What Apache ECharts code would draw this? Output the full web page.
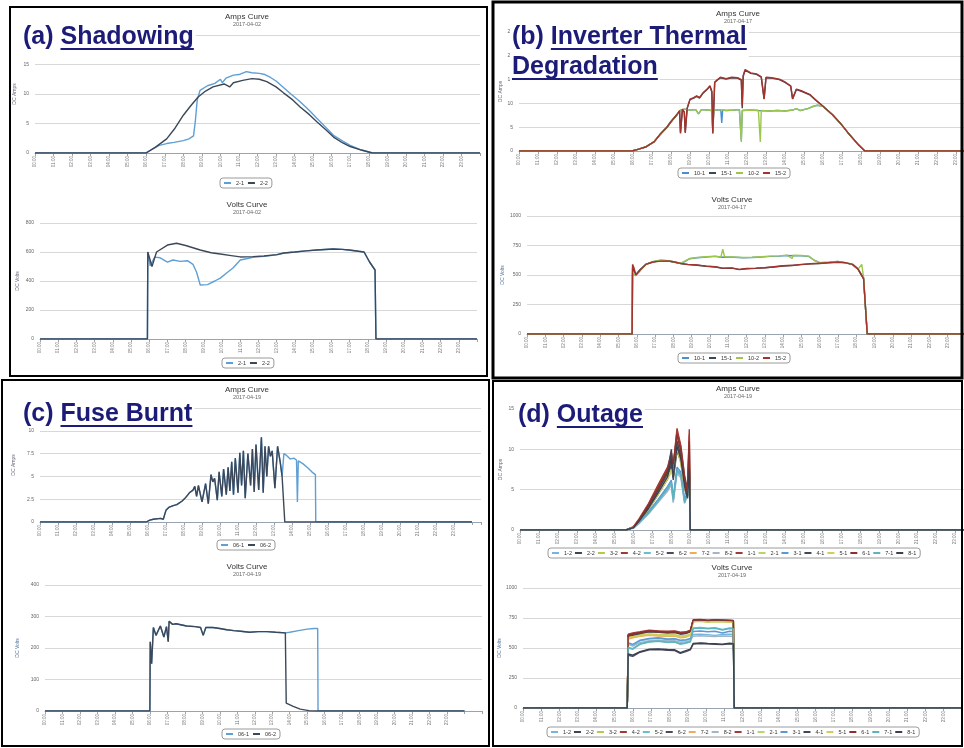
<!DOCTYPE html>
<html><head><meta charset="utf-8">
<script src="https://cdn.jsdelivr.net/npm/echarts@6/dist/echarts.min.js"></script>
<style>html,body{margin:0;padding:0;background:#fff}#c{width:964px;height:748px}</style>
</head><body><div id="c"></div>
<script>
// ---------- tick labels ----------
const xTickLabels = ['00:00','01:00','02:00','03:00','04:00','05:00','06:00','07:00','08:00','09:00','10:00','11:00',
  '12:00','13:00','14:00','15:00','16:00','17:00','18:00','19:00','20:00','21:00','22:00','23:00'];

// ---------- (a) Shadowing, 2017-04-02 ----------
const aAmps21 = [[0,0],[5.95,0],[6.3,0.6],[6.7,1.3],[7.1,1.6],[7.5,1.8],[8.0,2.1],[8.3,2.4],[8.55,2.9],[8.65,5.5],[8.75,9.0],[8.9,10.6],[9.3,11.4],[9.7,11.8],[10.0,12.5],[10.1,11.9],[10.3,12.7],[10.7,13.2],[11.0,13.3],[11.4,13.8],[11.7,13.6],[12.1,13.5],[12.4,13.3],[12.7,12.8],[13.0,12.2],[13.4,11.1],[13.8,10.0],[14.3,8.7],[14.8,7.2],[15.2,5.9],[15.7,4.3],[16.1,3.0],[16.6,2.0],[17.0,1.3],[17.6,0.5],[18.2,0],[24,0]];
const aAmps22 = [[0,0],[6.0,0],[6.5,1.0],[7.1,2.4],[7.55,4.2],[8.0,6.4],[8.4,8.0],[8.8,9.5],[9.2,10.5],[9.6,11.2],[10.2,11.7],[10.5,11.2],[10.7,11.9],[11.2,12.3],[11.7,12.6],[12.1,12.5],[12.5,12.1],[13.0,11.2],[13.4,10.2],[13.9,9.0],[14.3,7.8],[14.8,6.5],[15.2,5.3],[15.7,3.9],[16.1,2.7],[16.6,1.7],[17.0,1.1],[17.6,0.5],[18.2,0],[24,0]];
const aVolts21 = [[0,0],[5.9,0],[5.92,600],[6.05,505],[6.3,565],[6.6,560],[7.0,530],[7.3,545],[7.7,535],[8.1,540],[8.4,515],[8.6,460],[8.8,372],[9.2,375],[9.6,400],[9.9,420],[10.3,460],[10.6,490],[11.0,545],[11.4,555],[11.8,566],[12.3,570],[13.0,580],[13.4,593],[14.0,600],[14.6,608],[15.2,614],[16.1,621],[16.6,618],[17.0,612],[17.5,605],[17.8,598],[18.1,531],[18.4,476],[18.45,0],[24,0]];
const aVolts22 = [[0,0],[5.9,0],[5.92,600],[6.15,500],[6.4,600],[7.0,648],[7.5,660],[8.0,645],[8.8,614],[9.4,595],[9.9,586],[10.5,575],[11.0,566],[11.7,568],[12.3,572],[13.0,582],[13.4,593],[14.0,600],[14.6,608],[15.2,614],[16.1,621],[16.6,618],[17.0,614],[17.5,605],[17.8,600],[18.1,531],[18.4,476],[18.45,0],[24,0]];

// ---------- (b) Inverter Thermal Degradation, 2017-04-17 ----------
const bAmps101 = [[0,0],[5.95,0],[6.3,0.4],[6.7,0.9],[7.1,1.9],[7.4,3.4],[7.8,5.1],[8.0,6.2],[8.3,7.6],[8.5,8.6],[8.7,8.8],[9.0,8.6],[9.3,8.7],[9.45,7.8],[9.6,8.7],[9.9,8.6],[10.15,8.5],[10.2,3.9],[10.25,8.6],[10.62,8.6],[10.67,5.9],[10.72,8.6],[10.9,8.5],[11.3,8.6],[11.6,8.7],[11.7,2.2],[11.75,8.5],[12.2,8.6],[12.6,8.5],[13.2,8.4],[13.6,8.5],[14.0,8.4],[14.4,8.6],[14.6,8.9],[14.8,8.5],[15.2,8.9],[15.5,9.4],[15.7,9.6],[16.0,9.4],[16.5,7.6],[16.9,5.9],[17.3,3.9],[17.8,1.6],[18.2,0],[24,0]];
const bAmps151 = [[0,0],[5.95,0],[6.3,0.4],[6.7,0.9],[7.1,1.9],[7.4,3.3],[7.8,5.0],[8.0,6.1],[8.3,7.5],[8.45,8.4],[8.5,3.9],[8.6,8.7],[8.7,8.1],[8.75,4.0],[8.85,8.9],[9.0,10.8],[9.2,11.1],[9.35,11.5],[9.5,11.1],[9.7,12.2],[9.9,12.9],[10.05,13.6],[10.15,12.4],[10.2,3.9],[10.3,14.4],[10.45,14.9],[10.6,15.4],[10.9,15.1],[11.2,15.4],[11.5,15.3],[11.7,14.9],[11.75,9.0],[11.8,15.7],[11.9,17.0],[12.2,16.3],[12.5,16.1],[12.75,15.5],[12.9,11.0],[13.0,15.4],[13.3,15.3],[13.7,15.0],[14.0,14.4],[14.3,13.6],[14.4,11.0],[14.6,12.9],[14.9,12.5],[15.3,11.8],[15.6,10.7],[16.0,9.4],[16.5,7.6],[16.9,5.9],[17.3,3.9],[17.8,1.6],[18.2,0],[24,0]];
const bAmps102 = [[0,0],[5.95,0],[6.3,0.4],[6.7,0.9],[7.1,1.9],[7.4,3.4],[7.8,5.1],[8.0,6.2],[8.3,7.6],[8.5,8.6],[8.7,8.8],[9.0,8.6],[9.3,8.7],[9.45,7.8],[9.6,8.7],[9.9,8.6],[10.15,8.5],[10.2,3.7],[10.25,8.6],[10.6,8.7],[10.9,8.5],[11.3,8.6],[11.6,8.7],[11.7,1.9],[11.75,8.5],[12.2,8.6],[12.6,8.5],[12.7,1.9],[12.75,8.5],[13.2,8.4],[13.6,8.5],[14.0,8.4],[14.4,8.6],[14.6,8.9],[14.8,8.5],[15.2,8.9],[15.5,9.4],[15.7,9.6],[16.0,9.4],[16.5,7.6],[16.9,5.9],[17.3,3.9],[17.8,1.6],[18.2,0],[24,0]];
const bAmps152 = [[0,0],[5.95,0],[6.3,0.4],[6.7,0.9],[7.1,1.9],[7.4,3.4],[7.8,5.1],[8.0,6.2],[8.3,7.6],[8.45,8.5],[8.5,3.7],[8.6,8.8],[8.7,8.2],[8.75,3.8],[8.85,9.0],[9.0,10.9],[9.2,11.2],[9.35,11.6],[9.5,11.2],[9.7,12.3],[9.9,13.0],[10.05,13.7],[10.15,12.5],[10.2,3.7],[10.3,14.5],[10.45,15.0],[10.6,15.5],[10.9,15.2],[11.2,15.5],[11.5,15.4],[11.7,15.0],[11.75,9.5],[11.8,15.8],[11.9,17.1],[12.2,16.4],[12.5,16.2],[12.75,15.6],[12.9,10.9],[13.0,15.5],[13.3,15.4],[13.7,15.1],[14.0,14.5],[14.3,13.7],[14.4,10.9],[14.6,13.0],[14.9,12.6],[15.3,11.9],[15.6,10.8],[16.0,9.4],[16.5,7.6],[16.9,5.9],[17.3,3.9],[17.8,1.6],[18.2,0],[24,0]];
const bVolts101 = [[0,0],[5.75,0],[5.77,515],[5.95,495],[6.2,540],[6.5,590],[6.9,612],[7.3,625],[7.7,622],[8.0,612],[8.4,600],[8.6,612],[8.9,638],[9.3,646],[9.8,653],[10.3,658],[10.6,650],[10.8,653],[11.3,650],[11.8,646],[12.3,648],[12.8,653],[13.3,658],[13.8,660],[14.2,665],[14.6,663],[15.0,662],[15.4,658],[15.7,625],[16.0,605],[16.5,608],[17.0,615],[17.4,605],[17.8,590],[18.1,550],[18.4,478],[18.6,0],[24,0]];
const bVolts151 = [[0,0],[5.75,0],[5.77,560],[5.95,505],[6.2,548],[6.5,592],[6.9,612],[7.3,620],[7.7,618],[8.0,610],[8.4,596],[8.8,588],[9.3,583],[9.8,574],[10.3,568],[10.7,556],[11.2,558],[11.6,546],[12.0,553],[12.5,556],[13.0,561],[13.5,568],[14.0,576],[14.5,580],[15.0,588],[15.5,594],[16.0,598],[16.5,604],[17.0,608],[17.4,603],[17.8,588],[18.1,548],[18.4,468],[18.6,0],[24,0]];
const bVolts102 = [[0,0],[5.75,0],[5.77,520],[5.95,495],[6.2,540],[6.5,590],[6.9,612],[7.3,625],[7.7,622],[8.0,612],[8.4,600],[8.6,615],[8.9,640],[9.3,648],[9.8,655],[10.3,660],[10.6,652],[10.7,718],[10.8,655],[11.3,652],[11.8,648],[12.3,650],[12.8,655],[13.3,660],[13.8,662],[14.2,668],[14.5,640],[14.55,668],[15.0,665],[15.4,660],[15.7,625],[16.0,605],[16.5,608],[17.0,615],[17.4,605],[17.8,590],[18.1,550],[18.3,590],[18.4,480],[18.6,0],[24,0]];
const bVolts152 = [[0,0],[5.75,0],[5.77,590],[5.85,560],[5.95,500],[6.2,545],[6.5,590],[6.9,610],[7.3,618],[7.7,620],[8.0,612],[8.4,598],[8.8,590],[9.3,585],[9.8,575],[10.3,570],[10.7,558],[11.2,560],[11.6,548],[12.0,555],[12.5,558],[13.0,562],[13.5,570],[14.0,578],[14.5,582],[15.0,590],[15.5,595],[16.0,600],[16.5,605],[17.0,610],[17.4,605],[17.8,590],[18.1,550],[18.4,470],[18.6,0],[24,0]];

// ---------- (c) Fuse Burnt, 2017-04-19 ----------
const cAmps061 = [[0,0],[5.9,0],[6.1,0.2],[6.3,0.3],[6.7,0.4],[6.85,0.3],[7.0,1.3],[7.15,1.6],[7.4,1.8],[7.6,1.9],[7.9,2.3],[8.1,2.7],[8.3,3.2],[8.5,3.5],[8.6,3.9],[8.7,2.8],[8.8,4.0],[9.0,2.2],[9.2,4.2],[9.35,2.0],[9.5,5.2],[9.6,4.4],[9.7,4.8],[9.85,2.4],[9.95,5.5],[10.1,2.8],[10.2,5.8],[10.35,3.0],[10.45,6.0],[10.55,3.4],[10.65,6.6],[10.75,3.0],[10.85,7.0],[11.0,3.2],[11.1,7.6],[11.2,4.0],[11.3,7.8],[11.4,2.6],[11.55,7.5],[11.7,4.0],[11.8,8.0],[11.9,3.3],[12.0,8.5],[12.15,3.5],[12.3,9.3],[12.4,3.2],[12.5,8.3],[12.6,5.0],[12.7,8.3],[12.8,7.2],[12.9,7.8],[13.05,3.7],[13.2,8.3],[13.35,6.5],[13.45,5.0],[13.55,7.5],[13.7,7.3],[13.9,6.9],[14.1,7.0],[14.25,6.8],[14.3,2.2],[14.35,6.7],[14.6,6.4],[14.9,5.9],[15.1,5.5],[15.3,5.2],[15.32,0],[24,0]];
const cAmps062 = [[0,0],[5.9,0],[6.1,0.2],[6.3,0.3],[6.7,0.4],[6.85,0.3],[7.0,1.3],[7.15,1.6],[7.4,1.8],[7.6,1.9],[7.9,2.3],[8.1,2.7],[8.3,3.2],[8.5,3.5],[8.6,3.9],[8.7,2.8],[8.8,4.0],[9.0,2.2],[9.2,4.2],[9.35,2.0],[9.5,5.2],[9.6,4.4],[9.7,4.8],[9.85,2.4],[9.95,5.5],[10.1,2.8],[10.2,5.8],[10.35,3.0],[10.45,6.0],[10.55,3.4],[10.65,6.6],[10.75,3.0],[10.85,7.0],[11.0,3.2],[11.1,7.6],[11.2,4.0],[11.3,7.8],[11.4,2.6],[11.55,7.5],[11.7,4.0],[11.8,8.0],[11.9,3.3],[12.0,8.5],[12.15,3.5],[12.3,9.3],[12.4,3.2],[12.5,8.3],[12.6,5.0],[12.7,8.3],[12.8,7.2],[12.9,7.8],[13.05,3.7],[13.2,8.3],[13.35,6.5],[13.45,5.0],[13.6,0],[24,0]];
const cVolts061 = [[0,0],[6.0,0],[6.02,220],[6.1,150],[6.2,265],[6.35,240],[6.6,270],[6.8,235],[6.95,268],[7.05,220],[7.1,285],[7.3,275],[7.5,277],[8.1,270],[8.6,268],[8.9,265],[9.05,240],[9.2,265],[9.6,265],[10.0,262],[10.4,258],[10.8,255],[11.2,253],[11.7,250],[12.2,252],[12.7,252],[13.2,250],[13.75,248],[14.0,250],[14.5,255],[15.0,260],[15.4,262],[15.6,262],[15.62,0],[24,0]];
const cVolts062 = [[0,0],[6.0,0],[6.02,220],[6.1,150],[6.2,265],[6.35,240],[6.6,270],[6.8,235],[6.95,268],[7.05,220],[7.1,285],[7.3,275],[7.5,277],[8.1,270],[8.6,268],[8.9,265],[9.05,240],[9.2,265],[9.6,265],[10.0,262],[10.4,258],[10.8,255],[11.2,253],[11.7,250],[12.2,252],[12.7,252],[13.2,250],[13.75,248],[13.8,25],[14.2,15],[14.6,6],[15.1,1],[15.5,0],[24,0]];

// ---------- (d) Outage, 2017-04-19 ----------
const dNames = ['1-2','2-2','3-2','4-2','5-2','6-2','7-2','8-2','1-1','2-1','3-1','4-1','5-1','6-1','7-1','8-1'];
const dAmpHours = [0,5.6,6.0,6.3,6.8,7.3,7.8,8.0,8.1,8.3,8.5,8.7,8.85,8.95,9.0,24];
const dAmps12 = [0,0,0.3,0.9,2.2,3.7,5.2,6.0,3.6,7.5,7.0,3.6,4.5,6.5,0,0];
const dAmps22 = [0,0,0.4,1.2,3.0,5.0,7.2,10.0,7.0,11.3,9.6,5.8,4.3,8.5,0,0];
const dAmps32 = [0,0,0.3,1.2,2.8,4.7,6.8,7.8,7.2,10.8,8.8,5.6,4.5,7.2,0,0];
const dAmps42 = [0,0,0.4,1.4,3.3,5.6,7.8,9.6,8.0,12.6,10.5,6.8,5.0,12.5,0,0];
const dAmps52 = [0,0,0.3,0.9,2.1,3.5,5.0,5.8,3.5,7.2,6.8,3.5,4.3,6.2,0,0];
const dAmps62 = [0,0,0.3,1.1,2.6,4.4,6.3,8.2,6.2,9.8,8.5,5.2,3.9,7.0,0,0];
const dAmps72 = [0,0,0.4,1.3,3.1,5.3,7.5,8.6,7.8,11.5,9.6,6.0,4.7,9.0,0,0];
const dAmps82 = [0,0,0.2,0.8,2.0,3.4,4.8,5.6,3.4,7.0,6.5,3.3,4.2,6.0,0,0];
const dAmps11 = [0,0,0.4,1.3,3.2,5.4,7.6,9.2,7.8,12.2,10.3,6.5,4.8,11.8,0,0];
const dAmps21 = [0,0,0.3,1.1,2.7,4.5,6.5,7.5,7.0,10.5,8.5,5.4,4.4,7.0,0,0];
const dAmps31 = [0,0,0.3,1.0,2.3,3.8,5.4,6.2,4.0,7.8,7.2,3.8,4.6,6.8,0,0];
const dAmps41 = [0,0,0.3,1.2,2.9,4.9,7.0,9.6,6.8,11.0,9.2,5.6,4.2,8.0,0,0];
const dAmps51 = [0,0,0.3,1.1,2.6,4.4,6.3,7.2,6.8,10.2,8.2,5.2,4.2,6.8,0,0];
const dAmps61 = [0,0,0.3,1.3,3.1,5.2,7.4,8.8,8.2,11.8,9.8,6.2,4.6,11.0,0,0];
const dAmps71 = [0,0,0.3,0.9,2.1,3.6,5.1,5.9,3.8,7.4,6.9,3.4,4.4,6.3,0,0];
const dAmps81 = [0,0,0.3,1.1,2.7,4.6,6.6,8.8,6.5,10.4,8.8,5.4,4.0,7.5,0,0];
const dVoltHours = [0,5.7,5.75,6.0,6.4,6.9,7.4,7.9,8.3,8.6,8.9,9.15,9.3,9.7,10.1,10.5,10.9,11.3,11.5,11.55,24];
const dVolts12 = [0,0,540,520,560,575,580,570,575,560,565,575,612,615,610,605,612,615,612,0,0];
const dVolts22 = [0,0,600,610,625,640,635,630,632,620,625,640,728,732,725,730,728,726,724,0,0];
const dVolts32 = [0,0,580,590,600,610,605,600,605,590,595,610,718,722,716,720,718,716,715,0,0];
const dVolts42 = [0,0,610,620,630,645,640,635,638,628,630,645,735,738,732,736,734,732,730,0,0];
const dVolts52 = [0,0,500,490,530,550,555,545,550,530,540,550,668,672,665,670,655,668,665,0,0];
const dVolts62 = [0,0,440,430,465,485,488,480,478,455,470,485,532,538,535,530,528,535,532,0,0];
const dVolts72 = [0,0,575,585,598,605,600,598,600,585,590,605,722,726,720,724,722,720,718,0,0];
const dVolts82 = [0,0,530,515,545,560,565,560,562,548,552,562,598,602,598,595,600,598,596,0,0];
const dVolts11 = [0,0,615,625,635,648,642,640,642,632,635,648,730,734,728,732,730,728,726,0,0];
const dVolts21 = [0,0,590,600,610,618,612,610,612,600,605,615,720,724,718,722,720,718,716,0,0];
const dVolts31 = [0,0,545,530,565,580,585,575,578,565,570,580,638,642,636,640,625,640,636,0,0];
const dVolts41 = [0,0,598,605,620,635,630,625,628,615,620,635,726,730,724,728,726,724,722,0,0];
const dVolts51 = [0,0,585,595,603,612,607,602,606,592,598,612,720,724,718,722,720,718,717,0,0];
const dVolts61 = [0,0,605,615,628,640,636,630,634,622,626,640,732,736,730,734,732,730,728,0,0];
const dVolts71 = [0,0,505,495,535,552,558,550,552,535,545,555,662,666,660,665,650,662,660,0,0];
const dVolts81 = [0,0,450,440,470,490,492,488,485,462,478,490,538,542,538,535,532,540,536,0,0];

// ---------- styling ----------
const COL = {lb:'#5e9fd6', dk:'#3c4859', blue:'#4a8fd6', green:'#9cc64c', red:'#a3342c'};
const dColors = ['#7ab2de','#3e4552','#b3cb4a','#9e3a2e','#68c0cc','#4b4a5e','#f0ac5a','#9fb6cc',
                 '#a23a36','#b8d66e','#5a98d6','#404858','#d6cc5a','#8a3030','#5cb4bc','#3a4050'];
const dAmpsVals = [dAmps12,dAmps22,dAmps32,dAmps42,dAmps52,dAmps62,dAmps72,dAmps82,dAmps11,dAmps21,dAmps31,dAmps41,dAmps51,dAmps61,dAmps71,dAmps81];
const dVoltVals = [dVolts12,dVolts22,dVolts32,dVolts42,dVolts52,dVolts62,dVolts72,dVolts82,dVolts11,dVolts21,dVolts31,dVolts41,dVolts51,dVolts61,dVolts71,dVolts81];
const zip = (hs, vs) => hs.map((h, i) => [h, vs[i]]);

const charts = [
  {grid:[35,35,445,118], xMax:24, yMax:20, yInt:5, yName:'DC Amps', gap:18, t:['Amps Curve','2017-04-02',247,17], lg:[220,178,4],
   s:[['2-1',aAmps21,COL.lb],['2-2',aAmps22,COL.dk]]},
  {grid:[40,223,437,116], xMax:24, yMax:800, yInt:200, yName:'DC Volts', gap:20, t:['Volts Curve','2017-04-02',247,205], lg:[222,358,4],
   s:[['2-1',aVolts21,COL.lb],['2-2',aVolts22,COL.dk]]},
  {grid:[519,32,456,119], xMax:24, yMax:25, yInt:5, yName:'DC Amps', gap:16, t:['Amps Curve','2017-04-17',738,14], lg:[678,168,4],
   s:[['10-1',bAmps101,COL.blue],['15-1',bAmps151,COL.dk],['10-2',bAmps102,COL.green],['15-2',bAmps152,COL.red]]},
  {grid:[527,216,439,118], xMax:24, yMax:1000, yInt:250, yName:'DC Volts', gap:22, t:['Volts Curve','2017-04-17',732,200], lg:[678,353,4],
   s:[['10-1',bVolts101,COL.blue],['15-1',bVolts151,COL.dk],['10-2',bVolts102,COL.green],['15-2',bVolts152,COL.red]]},
  {grid:[40,408,441,114], xMax:24.5, yMax:12.5, yInt:2.5, yName:'DC Amps', gap:24, t:['Amps Curve','2017-04-19',247,390], lg:[217,540,4],
   s:[['06-1',cAmps061,COL.lb],['06-2',cAmps062,COL.dk]]},
  {grid:[45,585,437,126], xMax:25, yMax:400, yInt:100, yName:'DC Volts', gap:25, t:['Volts Curve','2017-04-19',247,567], lg:[222,729,4],
   s:[['06-1',cVolts061,COL.lb],['06-2',cVolts062,COL.dk]]},
  {grid:[520,409,454,121], xMax:24, yMax:15, yInt:5, yName:'DC Amps', gap:17, t:['Amps Curve','2017-04-19',738,389], lg:[548,548,3],
   s:dNames.map((n,i)=>[n, zip(dAmpHours, dAmpsVals[i]), dColors[i]])},
  {grid:[523,588,439,120], xMax:24, yMax:1000, yInt:250, yName:'DC Volts', gap:20, t:['Volts Curve','2017-04-19',732,568], lg:[547,727,3],
   s:dNames.map((n,i)=>[n, zip(dVoltHours, dVoltVals[i]), dColors[i]])}
];

const FONT = '"Liberation Sans", Arial, sans-serif';
const grids = [], xAxes = [], yAxes = [], series = [], legends = [], graphics = [];
charts.forEach((c, gi) => {
  grids.push({left:c.grid[0], top:c.grid[1], width:c.grid[2], height:c.grid[3], containLabel:false, outerBoundsMode:'none'});
  xAxes.push({type:'value', gridIndex:gi, min:0, max:c.xMax, interval:1,
    axisLine:{show:true, lineStyle:{color:'#9aa3b0', width:1}},
    axisTick:{show:true, length:3, lineStyle:{color:'#9aa3b0'}},
    splitLine:{show:false},
    axisLabel:{rotate:90, fontSize:4.5, color:'#777', margin:3, fontFamily:FONT,
      formatter: v => xTickLabels[v] || ''}});
  yAxes.push({type:'value', gridIndex:gi, min:0, max:c.yMax, interval:c.yInt,
    name:c.yName, nameLocation:'middle', nameGap:c.gap, nameRotate:90,
    nameTextStyle:{fontSize:5, color: c.yName === 'DC Volts' && gi > 1 ? '#4f6f9a' : '#667', fontFamily:FONT},
    axisLine:{show:false}, axisTick:{show:false},
    splitLine:{show:true, lineStyle:{color:'#d8d8d8', width:1}},
    axisLabel:{fontSize:5, color:'#666', margin:6, fontFamily:FONT, formatter: v => String(v)}});
  c.s.forEach(([name, data, color]) => {
    series.push({type:'line', name, data, xAxisIndex:gi, yAxisIndex:gi, symbol:'none', showSymbol:false,
      lineStyle:{width:1.4, color}, itemStyle:{color}, animation:false, z:3});
  });
  legends.push({left:c.lg[0], top:c.lg[1], orient:'horizontal', icon:'rect', itemWidth:7, itemHeight:2,
    itemGap:c.lg[2], padding:[2,4], borderColor:'#9a9a9a', borderWidth:1, borderRadius:3,
    textStyle:{fontSize:5.5, color:'#333', fontFamily:FONT}, selectedMode:false,
    data:c.s.map(([name,,color]) => ({name, itemStyle:{color}}))});
  graphics.push({type:'text', z:50, style:{text:c.t[0], x:c.t[2], y:c.t[3], align:'center', verticalAlign:'middle',
    font:'8px ' + FONT, fill:'#333'}});
  graphics.push({type:'text', z:50, style:{text:c.t[1], x:c.t[2], y:c.t[3] + 7.5, align:'center', verticalAlign:'middle',
    font:'5.5px ' + FONT, fill:'#666'}});
});

// panel borders
[[10,7,477,369,2],[493,2,469,376,3],[2,380,487,366,2],[493,381,469,365,2]].forEach(b => {
  graphics.push({type:'rect', z:60, shape:{x:b[0], y:b[1], width:b[2], height:b[3]},
    style:{fill:'none', stroke:'#000', lineWidth:b[4]}});
});

// panel captions (white box, prefix, underlined word)
const LFONT = 'bold 25px ' + FONT, LCOL = '#1c1c78';
const mctx = document.createElement('canvas').getContext('2d');
const tw = t => { mctx.font = LFONT; return mctx.measureText(t).width; };
const captions = [
  {pre:'(a) ', word:'Shadowing', x:23, base:46},
  {pre:'(b) ', word:'Inverter Thermal', x:512, base:46, boxTop:24, boxBottom:58},
  {pre:'', word:'Degradation', x:512, base:76, boxTop:58, boxBottom:83},
  {pre:'(c) ', word:'Fuse Burnt', x:23, base:423},
  {pre:'(d) ', word:'Outage', x:518, base:424}
];
captions.forEach(cp => {
  const pw = tw(cp.pre), ww = tw(cp.word);
  const top = cp.boxTop != null ? cp.boxTop : cp.base - 21;
  const bottom = cp.boxBottom != null ? cp.boxBottom : cp.base + 5;
  graphics.push({type:'rect', z:70, shape:{x:cp.x - 2, y:top, width:pw + ww + 4, height:bottom - top}, style:{fill:'#fff'}});
  graphics.push({type:'text', z:71, style:{text:cp.pre + cp.word, x:cp.x, y:cp.base - 8.5, verticalAlign:'middle', align:'left',
    font:LFONT, fill:LCOL}});
  graphics.push({type:'rect', z:71, shape:{x:cp.x + pw, y:cp.base + 2, width:ww, height:2}, style:{fill:LCOL}});
});

const chart = echarts.init(document.getElementById('c'), null, {renderer:'canvas'});
chart.setOption({
  animation:false, backgroundColor:'#fff',
  grid:grids, xAxis:xAxes, yAxis:yAxes, series, legend:legends,
  graphic:{elements:graphics}
});
</script></body></html>
